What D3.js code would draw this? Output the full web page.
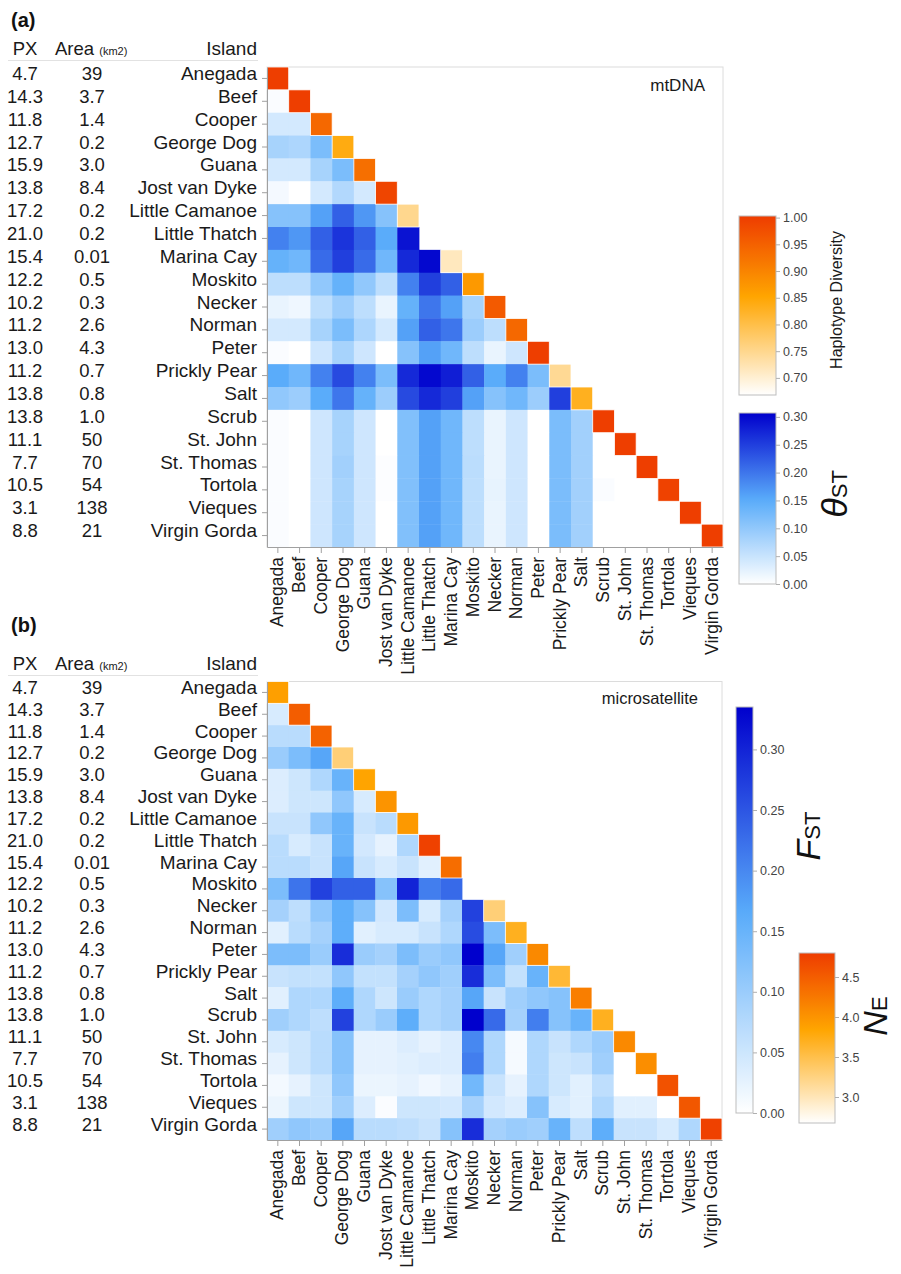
<!DOCTYPE html>
<html>
<head>
<meta charset="utf-8">
<script src="https://cdnjs.cloudflare.com/ajax/libs/d3/7.8.5/d3.min.js"></script>
<style>
  body { margin: 0; background: #fff; }
  text { font-family: "Liberation Sans", Arial, Helvetica, sans-serif; }
</style>
</head>
<body>
<div id="chart"></div>
<script>
// Islands, in row / column order
var islands = ["Anegada", "Beef", "Cooper", "George Dog", "Guana", "Jost van Dyke",
  "Little Camanoe", "Little Thatch", "Marina Cay", "Moskito", "Necker", "Norman",
  "Peter", "Prickly Pear", "Salt", "Scrub", "St. John", "St. Thomas", "Tortola",
  "Vieques", "Virgin Gorda"];

var px = ["4.7", "14.3", "11.8", "12.7", "15.9", "13.8", "17.2", "21.0", "15.4", "12.2",
  "10.2", "11.2", "13.0", "11.2", "13.8", "13.8", "11.1", "7.7", "10.5", "3.1", "8.8"];

var area = ["39", "3.7", "1.4", "0.2", "3.0", "8.4", "0.2", "0.2", "0.01", "0.5",
  "0.3", "2.6", "4.3", "0.7", "0.8", "1.0", "50", "70", "54", "138", "21"];

// (a) mtDNA: haplotype diversity on the diagonal (null = not drawn)
var haploDiv = [1.00, 1.00, 0.94, 0.84, 0.93, 0.99, 0.75, null, 0.715, 0.87, 0.96,
  0.94, 1.00, 0.745, 0.83, 1.00, 1.00, 1.00, 0.995, 1.00, 1.00];

// (a) pairwise theta-ST, lower triangle (row i has i values)
var thetaST = [
  [],
  [0.005],
  [0.04, 0.04],
  [0.08, 0.075, 0.12],
  [0.04, 0.04, 0.08, 0.12],
  [0.01, 0.0, 0.04, 0.07, 0.04],
  [0.11, 0.11, 0.16, 0.22, 0.17, 0.11],
  [0.19, 0.17, 0.22, 0.26, 0.22, 0.15, 0.29],
  [0.14, 0.13, 0.21, 0.25, 0.21, 0.13, 0.27, 0.30],
  [0.06, 0.06, 0.10, 0.14, 0.10, 0.06, 0.19, 0.25, 0.22],
  [0.02, 0.015, 0.06, 0.09, 0.06, 0.02, 0.14, 0.20, 0.16, 0.08],
  [0.04, 0.04, 0.08, 0.12, 0.075, 0.04, 0.16, 0.22, 0.20, 0.09, 0.06],
  [0.005, 0.0, 0.045, 0.08, 0.045, 0.0, 0.11, 0.16, 0.13, 0.06, 0.02, 0.045],
  [0.15, 0.13, 0.19, 0.24, 0.19, 0.12, 0.27, 0.30, 0.28, 0.22, 0.15, 0.19, 0.12],
  [0.10, 0.09, 0.15, 0.20, 0.14, 0.09, 0.24, 0.27, 0.25, 0.16, 0.11, 0.13, 0.09, 0.25],
  [0.005, 0.0, 0.045, 0.08, 0.045, 0.0, 0.115, 0.16, 0.13, 0.06, 0.02, 0.045, 0.0, 0.12, 0.085],
  [0.005, 0.0, 0.045, 0.08, 0.045, 0.0, 0.115, 0.16, 0.13, 0.06, 0.02, 0.045, 0.0, 0.12, 0.085, 0.0],
  [0.005, 0.0, 0.045, 0.085, 0.045, 0.003, 0.115, 0.16, 0.13, 0.062, 0.02, 0.045, 0.0, 0.12, 0.085, 0.0, 0.0],
  [0.005, 0.0, 0.045, 0.08, 0.045, 0.003, 0.115, 0.16, 0.13, 0.06, 0.022, 0.045, 0.0, 0.12, 0.085, 0.005, 0.0, 0.0],
  [0.005, 0.0, 0.045, 0.08, 0.045, 0.0, 0.115, 0.16, 0.13, 0.06, 0.02, 0.045, 0.0, 0.12, 0.085, 0.0, 0.0, 0.0, 0.0],
  [0.005, 0.0, 0.045, 0.08, 0.045, 0.0, 0.115, 0.16, 0.13, 0.06, 0.02, 0.045, 0.0, 0.12, 0.085, 0.0, 0.0, 0.0, 0.0, 0.0]
];

// (b) microsatellite: N_E on the diagonal
var neDiag = [3.9, 4.5, 4.45, 3.3, 3.85, 4.0, 3.95, 4.75, 4.35, null, 3.3,
  3.7, 4.1, 3.6, 4.2, 3.7, 4.1, 4.05, 4.6, 4.55, 4.75];

// (b) pairwise F_ST, lower triangle
var fst = [
  [],
  [0.04],
  [0.07, 0.07],
  [0.10, 0.13, 0.17],
  [0.035, 0.05, 0.08, 0.15],
  [0.035, 0.05, 0.05, 0.11, 0.04],
  [0.055, 0.055, 0.11, 0.15, 0.055, 0.07],
  [0.07, 0.04, 0.055, 0.15, 0.045, 0.025, 0.08],
  [0.07, 0.07, 0.055, 0.17, 0.055, 0.04, 0.055, 0.03],
  [0.13, 0.22, 0.27, 0.24, 0.24, 0.12, 0.30, 0.21, 0.23],
  [0.09, 0.065, 0.11, 0.16, 0.12, 0.045, 0.13, 0.04, 0.09, 0.27],
  [0.03, 0.07, 0.09, 0.16, 0.03, 0.04, 0.04, 0.055, 0.08, 0.26, 0.13],
  [0.13, 0.13, 0.10, 0.29, 0.10, 0.09, 0.13, 0.10, 0.11, 0.335, 0.17, 0.095],
  [0.055, 0.06, 0.06, 0.11, 0.06, 0.06, 0.09, 0.11, 0.095, 0.29, 0.13, 0.06, 0.15],
  [0.03, 0.08, 0.08, 0.16, 0.08, 0.05, 0.10, 0.08, 0.09, 0.17, 0.055, 0.095, 0.11, 0.12],
  [0.095, 0.08, 0.065, 0.27, 0.08, 0.10, 0.16, 0.08, 0.09, 0.335, 0.23, 0.09, 0.21, 0.12, 0.15],
  [0.04, 0.05, 0.07, 0.12, 0.025, 0.025, 0.035, 0.025, 0.035, 0.20, 0.08, 0.01, 0.08, 0.055, 0.08, 0.10],
  [0.025, 0.05, 0.07, 0.12, 0.025, 0.025, 0.03, 0.035, 0.035, 0.21, 0.08, 0.01, 0.08, 0.05, 0.055, 0.095, 0.0],
  [0.012, 0.025, 0.05, 0.11, 0.02, 0.02, 0.025, 0.015, 0.025, 0.14, 0.055, 0.025, 0.08, 0.05, 0.03, 0.065, 0.0, 0.0],
  [0.02, 0.05, 0.05, 0.095, 0.035, 0.005, 0.05, 0.05, 0.045, 0.09, 0.045, 0.035, 0.12, 0.04, 0.03, 0.08, 0.03, 0.03, 0.0],
  [0.095, 0.11, 0.10, 0.17, 0.07, 0.07, 0.065, 0.055, 0.12, 0.29, 0.09, 0.10, 0.095, 0.15, 0.065, 0.16, 0.055, 0.055, 0.04, 0.08]
];

// legend ticks
var hdTicks = [0.70, 0.75, 0.80, 0.85, 0.90, 0.95, 1.00];
var thetaTicks = [0.00, 0.05, 0.10, 0.15, 0.20, 0.25, 0.30];
var fstTicks = [0.00, 0.05, 0.10, 0.15, 0.20, 0.25, 0.30];
var neTicks = [3.0, 3.5, 4.0, 4.5];

var svg = d3.select("#chart").append("svg")
    .attr("width", 901)
    .attr("height", 1274);

var defs = svg.append("defs");

function blueScale(max) {
  return d3.scaleLinear()
      .domain([0, max * 0.49, max])
      .range(["#ffffff", "#5aacfa", "#0000cd"])
      .clamp(true);
}

function orangeScale(min, max) {
  return d3.scaleLinear()
      .domain([min, min + (max - min) * 0.55, max])
      .range(["#ffffff", "#ffa500", "#ee3c00"])
      .clamp(true);
}

var blueA = blueScale(0.307),
    orangeA = orangeScale(0.668, 1.003),
    blueB = blueScale(0.335),
    orangeB = orangeScale(2.675, 4.80);

function panel(p) {
  var x = d3.scaleBand().domain(islands).range([p.left, p.right]);
  var y = d3.scaleBand().domain(islands).range([p.top, p.bottom]);
  var g = svg.append("g");

  // Panel tag
  g.append("text")
      .attr("x", 11)
      .attr("y", p.tagY)
      .style("font-size", "20px")
      .style("font-weight", "bold")
      .style("fill", "#111")
      .text(p.tag);

  // Header
  g.append("text")
      .attr("x", 25)
      .attr("y", p.headY)
      .style("text-anchor", "middle")
      .style("font-size", "18.5px")
      .style("fill", "#1a1a1a")
      .text("PX");
  var ah = g.append("text")
      .attr("x", 55)
      .attr("y", p.headY)
      .style("font-size", "18.5px")
      .style("fill", "#1a1a1a");
  ah.append("tspan").text("Area ");
  ah.append("tspan").style("font-size", "11px").text("(km2)");
  g.append("text")
      .attr("x", 257)
      .attr("y", p.headY)
      .style("text-anchor", "end")
      .style("font-size", "19px")
      .style("fill", "#1a1a1a")
      .text("Island");
  g.append("line")
      .attr("x1", 8).attr("x2", 258)
      .attr("y1", p.headY + 5.5).attr("y2", p.headY + 5.5)
      .style("stroke", "#e2e2e2");

  // PX and Area columns
  g.selectAll(".px").data(islands).enter().append("text")
      .attr("x", 25)
      .attr("y", function(d) { return y(d) + y.bandwidth() / 2 + 1.5; })
      .style("text-anchor", "middle")
      .style("font-size", "18.5px")
      .style("fill", "#1a1a1a")
      .text(function(d, i) { return px[i]; });
  g.selectAll(".area").data(islands).enter().append("text")
      .attr("x", 92)
      .attr("y", function(d) { return y(d) + y.bandwidth() / 2 + 1.5; })
      .style("text-anchor", "middle")
      .style("font-size", "18.5px")
      .style("fill", "#1a1a1a")
      .text(function(d, i) { return area[i]; });

  // Frame
  g.append("rect")
      .attr("x", p.left)
      .attr("y", p.top)
      .attr("width", p.right - p.left)
      .attr("height", p.bottom - p.top)
      .style("fill", "none")
      .style("stroke", "#dcdcdc");

  // Off-diagonal cells
  var cells = [];
  p.off.forEach(function(row, i) {
    row.forEach(function(v, j) { cells.push({r: i, c: j, v: v}); });
  });
  g.append("g").selectAll("rect").data(cells).enter().append("rect")
      .attr("x", function(d) { return x(islands[d.c]); })
      .attr("y", function(d) { return y(islands[d.r]); })
      .attr("width", x.bandwidth() + 0.4)
      .attr("height", y.bandwidth() + 0.4)
      .style("fill", function(d) { return p.blue(d.v); });

  // Diagonal cells
  var diag = p.diag.map(function(v, i) { return {i: i, v: v}; })
      .filter(function(d) { return d.v !== null; });
  g.append("g").selectAll("rect").data(diag).enter().append("rect")
      .attr("x", function(d) { return x(islands[d.i]); })
      .attr("y", function(d) { return y(islands[d.i]); })
      .attr("width", x.bandwidth())
      .attr("height", y.bandwidth())
      .style("fill", function(d) { return p.orange(d.v); })
      .style("stroke", "#fff")
      .style("stroke-width", 0.8);

  // Left axis with island names
  var la = g.append("g")
      .attr("transform", "translate(" + p.left + ",0)")
      .call(d3.axisLeft(y).tickSize(5).tickPadding(5).tickSizeOuter(0));
  la.select(".domain").style("stroke", "#a0a0a0");
  la.selectAll(".tick line").style("stroke", "#a0a0a0");
  la.selectAll(".tick text")
      .attr("dy", "0.08em")
      .style("font-size", "19px")
      .style("font-family", "'Liberation Sans', Arial, sans-serif")
      .style("fill", "#1a1a1a");

  // Bottom axis with rotated names
  var ba = g.append("g")
      .attr("transform", "translate(0," + p.bottom + ")")
      .call(d3.axisBottom(x).tickSize(6).tickSizeOuter(0));
  ba.select(".domain").style("stroke", "#a0a0a0");
  ba.selectAll(".tick line").style("stroke", "#a0a0a0");
  ba.selectAll(".tick text")
      .attr("transform", "rotate(-90)")
      .attr("x", -10)
      .attr("y", 0)
      .attr("dy", "0.32em")
      .style("text-anchor", "end")
      .style("font-size", "17.5px")
      .style("font-family", "'Liberation Sans', Arial, sans-serif")
      .style("fill", "#1a1a1a");

  // Marker label
  g.append("text")
      .attr("x", p.markX)
      .attr("y", p.markY)
      .style("text-anchor", "end")
      .style("font-size", p.markSize)
      .style("fill", "#1a1a1a")
      .text(p.mark);
}

function legend(l) {
  var id = "grad" + l.id;
  var grad = defs.append("linearGradient")
      .attr("id", id)
      .attr("x1", 0).attr("y1", 1)
      .attr("x2", 0).attr("y2", 0);
  d3.range(0, 1.0001, 0.05).forEach(function(t) {
    grad.append("stop")
        .attr("offset", t)
        .attr("stop-color", l.color(l.min + t * (l.max - l.min)));
  });

  var g = svg.append("g");
  g.append("rect")
      .attr("x", l.x)
      .attr("y", l.top)
      .attr("width", l.w)
      .attr("height", l.bottom - l.top)
      .style("fill", "url(#" + id + ")")
      .style("stroke", "#bdbdbd");

  var s = d3.scaleLinear().domain([l.min, l.max]).range([l.bottom, l.top]);
  var ax = g.append("g")
      .attr("transform", "translate(" + (l.x + l.w) + ",0)")
      .call(d3.axisRight(s).tickValues(l.ticks).tickFormat(d3.format(l.fmt))
        .tickSize(4).tickPadding(3).tickSizeOuter(0));
  ax.select(".domain").remove();
  ax.selectAll(".tick line").style("stroke", "#b0b0b0");
  ax.selectAll(".tick text")
      .style("font-size", "12.5px")
      .style("font-family", "'Liberation Sans', Arial, sans-serif")
      .style("fill", "#444");
}

function rotLabel(x, y, big, sub, bigSize, subSize, italic) {
  var t = svg.append("text")
      .attr("transform", "translate(" + x + "," + y + ") rotate(-90)")
      .style("text-anchor", "middle")
      .style("fill", "#111");
  t.append("tspan")
      .style("font-size", bigSize)
      .style("font-style", italic ? "italic" : "normal")
      .text(big);
  if (sub) {
    t.append("tspan")
        .style("font-size", subSize)
        .text(sub);
  }
}

// Panel (a)
panel({
  tag: "(a)", tagY: 27, headY: 55,
  left: 267, right: 723, top: 67, bottom: 547,
  off: thetaST, diag: haploDiv, blue: blueA, orange: orangeA,
  mark: "mtDNA", markX: 705, markY: 91, markSize: "17px"
});

// Panel (b)
panel({
  tag: "(b)", tagY: 632, headY: 670,
  left: 267, right: 722, top: 681.5, bottom: 1140,
  off: fst, diag: neDiag, blue: blueB, orange: orangeB,
  mark: "microsatellite", markX: 698, markY: 704, markSize: "16.5px"
});

// Legends
legend({id: "hd", x: 739, w: 37, top: 216, bottom: 395, min: 0.668, max: 1.003,
  color: orangeA, ticks: hdTicks, fmt: ".2f"});
legend({id: "th", x: 739, w: 37, top: 413, bottom: 584, min: 0, max: 0.307,
  color: blueA, ticks: thetaTicks, fmt: ".2f"});
legend({id: "fst", x: 736, w: 17, top: 707, bottom: 1113, min: 0, max: 0.335,
  color: blueB, ticks: fstTicks, fmt: ".2f"});
legend({id: "ne", x: 799, w: 36, top: 953, bottom: 1123, min: 2.675, max: 4.80,
  color: orangeB, ticks: neTicks, fmt: ".1f"});

svg.append("text")
    .attr("transform", "translate(842,300) rotate(-90)")
    .style("text-anchor", "middle")
    .style("font-size", "16px")
    .style("fill", "#1a1a1a")
    .text("Haplotype Diversity");

rotLabel(847, 494, "\u03b8", "ST", "36px", "22px", true);
rotLabel(820, 836, "F", "ST", "34px", "22px", true);
rotLabel(887, 1016, "N", "E", "34px", "22px", true);
</script>
</body>
</html>
